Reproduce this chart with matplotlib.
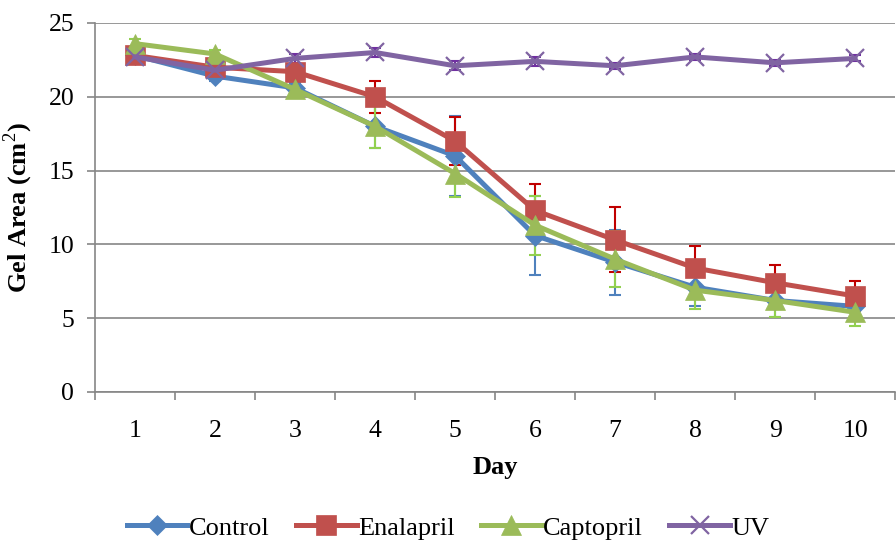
import numpy as np
import matplotlib
matplotlib.use("Agg")
import matplotlib.pyplot as plt

days = [1, 2, 3, 4, 5, 6, 7, 8, 9, 10]

control = [22.8, 21.4, 20.6, 18.0, 16.0, 10.6, 8.8, 7.1, 6.2, 5.8]
control_err = [0.3, 0.3, 0.3, 1.5, 2.7, 2.7, 2.2, 1.3, 1.1, 0.8]

enalapril = [22.8, 22.0, 21.7, 20.0, 17.0, 12.3, 10.3, 8.4, 7.4, 6.5]
enalapril_err = [0.3, 0.4, 0.4, 1.1, 1.6, 1.8, 2.2, 1.5, 1.2, 1.0]

captopril = [23.6, 22.9, 20.5, 18.0, 14.8, 11.3, 9.0, 6.9, 6.2, 5.4]
captopril_err = [0.3, 0.3, 0.3, 1.5, 1.6, 2.0, 1.9, 1.3, 1.1, 0.9]

uv = [22.7, 21.8, 22.6, 23.0, 22.1, 22.4, 22.1, 22.7, 22.3, 22.6]
uv_err = [0.3, 0.3, 0.3, 0.3, 0.3, 0.3, 0.2, 0.2, 0.2, 0.2]

plt.rcParams["font.family"] = ["Liberation Serif", "DejaVu Serif"]
plt.rcParams["mathtext.fontset"] = "custom"
plt.rcParams["mathtext.bf"] = "Liberation Serif:bold"
plt.rcParams["mathtext.rm"] = "Liberation Serif"

fig = plt.figure(figsize=(8.96, 5.47), dpi=100)
ax = fig.add_axes([0.106, 0.2834, 0.893, 0.6746])

series = [
    ("Control", control, control_err, "#4F81BD", "#4F81BD", "D", 10),
    ("Enalapril", enalapril, enalapril_err, "#C0504D", "#C00000", "s", 14),
    ("Captopril", captopril, captopril_err, "#9BBB59", "#92D050", "^", 14),
    ("UV", uv, uv_err, "#8064A2", "#7030A0", "x", 13),
]

for name, vals, err, col, ecol, mk, ms in series:
    ax.errorbar(days, vals, yerr=err, fmt="none", ecolor=ecol,
                elinewidth=1.5, capsize=4.5, capthick=1.5, zorder=2)
for name, vals, err, col, ecol, mk, ms in series:
    ax.plot(days, vals, color=col, linewidth=3.6, marker=mk, markersize=ms,
            markeredgecolor=col, markeredgewidth=1.6 if mk == "x" else 0.5,
            label=name, zorder=3)

ax.set_xlim(0.5, 10.5)
ax.set_ylim(0, 25)
ax.set_yticks(range(0, 26, 5))
ax.set_xticks(days)
ax.set_xticks(np.arange(0.5, 10.6, 1), minor=True)
ax.tick_params(axis="x", which="major", length=0, pad=20, labelsize=18.5)
ax.tick_params(axis="x", which="minor", length=6, color="#868686", width=1.2)
ax.tick_params(axis="y", length=6, color="#868686", width=1.2, labelsize=18.5, pad=9)
ax.grid(axis="y", color="#868686", linewidth=1.2, zorder=0)
for s in ["top", "right"]:
    ax.spines[s].set_visible(False)
for s in ["left", "bottom"]:
    ax.spines[s].set_color("#868686")
    ax.spines[s].set_linewidth(1.2)

ax.set_xlabel("Day", fontsize=19, fontweight="bold", labelpad=10)
ax.set_ylabel("Gel Area (cm$^\\mathrm{2}$)", fontsize=19, fontweight="bold", labelpad=10)

fig.legend(loc="center", bbox_to_anchor=(0.5, 0.035), ncol=4, frameon=False,
           fontsize=19, handlelength=2.3, handletextpad=0.05, columnspacing=1.0)

fig.savefig("out.png", dpi=100)
